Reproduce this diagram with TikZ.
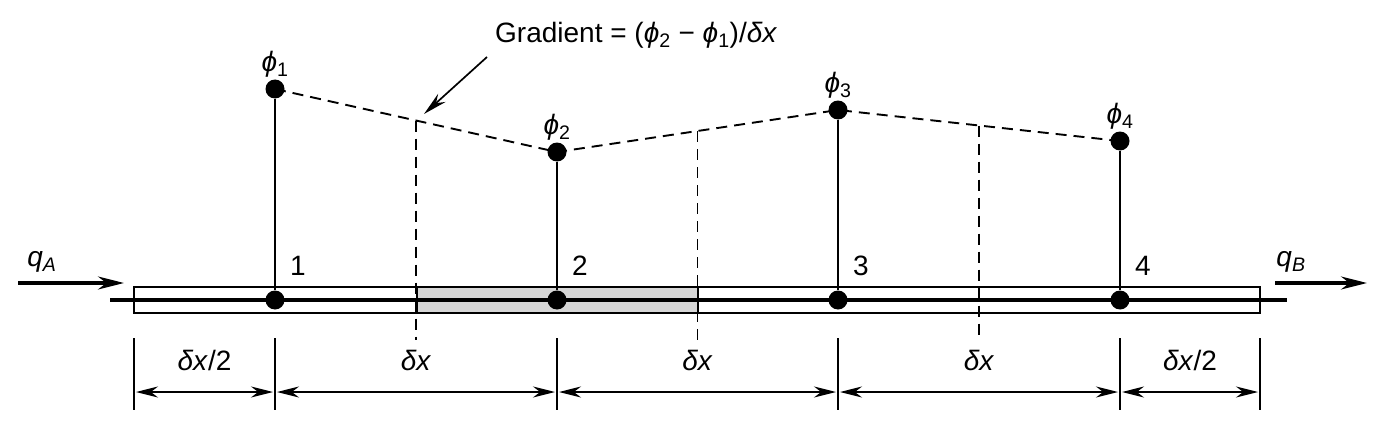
\documentclass[tikz,border=0pt]{standalone}
\usepackage{fontspec}
\setmainfont{Liberation Sans}
\usetikzlibrary{positioning,calc,arrows.meta}

\newcommand{\gphi}{{\itshape ϕ}}
\newcommand{\gdelta}{{\itshape δ}}

\begin{document}
\begin{tikzpicture}[x=1pt, y=-1pt, every node/.style={font=\fontsize{28}{33}\selectfont, inner sep=2pt},
	dot/.style={circle, fill=black, inner sep=0pt, minimum size=19pt},
	thinln/.style={line width=1.7pt},
	dashln/.style={line width=1.9pt, dash pattern=on 11pt off 7pt},
	dimarr/.style={line width=1.5pt, {Stealth[length=22pt,width=11pt]}-{Stealth[length=22pt,width=11pt]}},
	flow/.style={line width=3.2pt, -{Stealth[length=26pt,width=13pt]}}]
	\useasboundingbox (0,0) rectangle (1387,428);
	% bar with the shaded control volume
	\draw[thinln] (134,287) rectangle (1260,313);
	\draw[thinln, fill=black!16] (417,287) rectangle (698,313);
	\coordinate (barL) at (110,300);
	\coordinate (barR) at (1287,300);
	\draw[line width=3.4pt] (barL) -- (barR);
	% nodes and values
	\foreach \i/\x/\y in {1/275/89, 2/557/152, 3/838/110, 4/1120/141} {
		\node[dot] (n\i) at (\x,300) {};
		\node[dot] (p\i) at (\x,\y) {};
		\draw[thinln] (p\i) -- (n\i);
		\node[above=0pt of p\i] (lab\i) {\gphi\textsubscript{\i}};
		\node (num\i) at (\x+23,266) {\i};
	}
	\draw[dashln] (p1.center) -- (p2.center) -- (p3.center) -- (p4.center);
	\coordinate (dimtop) at (0,340);
	\foreach \a/\b [count=\k] in {1/2, 2/3, 3/4} {
		\coordinate (m\k) at ($(p\a)!0.5!(p\b)$);
		\draw[dashln] (m\k) -- (m\k |- dimtop);
	}
	% gradient label
	\node[anchor=west, inner sep=0pt] (grad) at (495,35) {Gradient = (\gphi\textsubscript{2} − \gphi\textsubscript{1})/\gdelta\textit{x}};
	\coordinate (gstart) at (487,57);
	\coordinate (gtip) at (424,114);
	\draw[thinln, -{Stealth[length=24pt,width=11pt]}] (gstart) -- (gtip);
	% fluxes
	\coordinate (qAs) at (18,283);
	\coordinate (qAe) at (124,283);
	\coordinate (qBs) at (1275,283);
	\coordinate (qBe) at (1367,283);
	\draw[flow] (qAs) -- (qAe);
	\draw[flow] (qBs) -- (qBe);
	\node (qA) at (42,262) {\textit{q}\textsubscript{\textit{A}}};
	\node (qB) at (1291,262) {\textit{q}\textsubscript{\textit{B}}};
	% dimensions
	\foreach \x [count=\k from 0] in {134, 275, 557, 838, 1120, 1260} {
		\draw[line width=1.9pt] (\x,338) -- (\x,410);
		\coordinate (d\k) at (\x,392);
	}
	\foreach \a/\b/\t in {0/1/{\gdelta\textit{x}/2}, 1/2/{\gdelta\textit{x}}, 2/3/{\gdelta\textit{x}}, 3/4/{\gdelta\textit{x}}, 4/5/{\gdelta\textit{x}/2}} {
		\draw[dimarr, shorten <=2pt, shorten >=2pt] (d\a) -- (d\b);
		\node (dl\a) at ($(d\a)!0.5!(d\b)+(0,-32)$) {\t};
	}
\end{tikzpicture}
\end{document}
